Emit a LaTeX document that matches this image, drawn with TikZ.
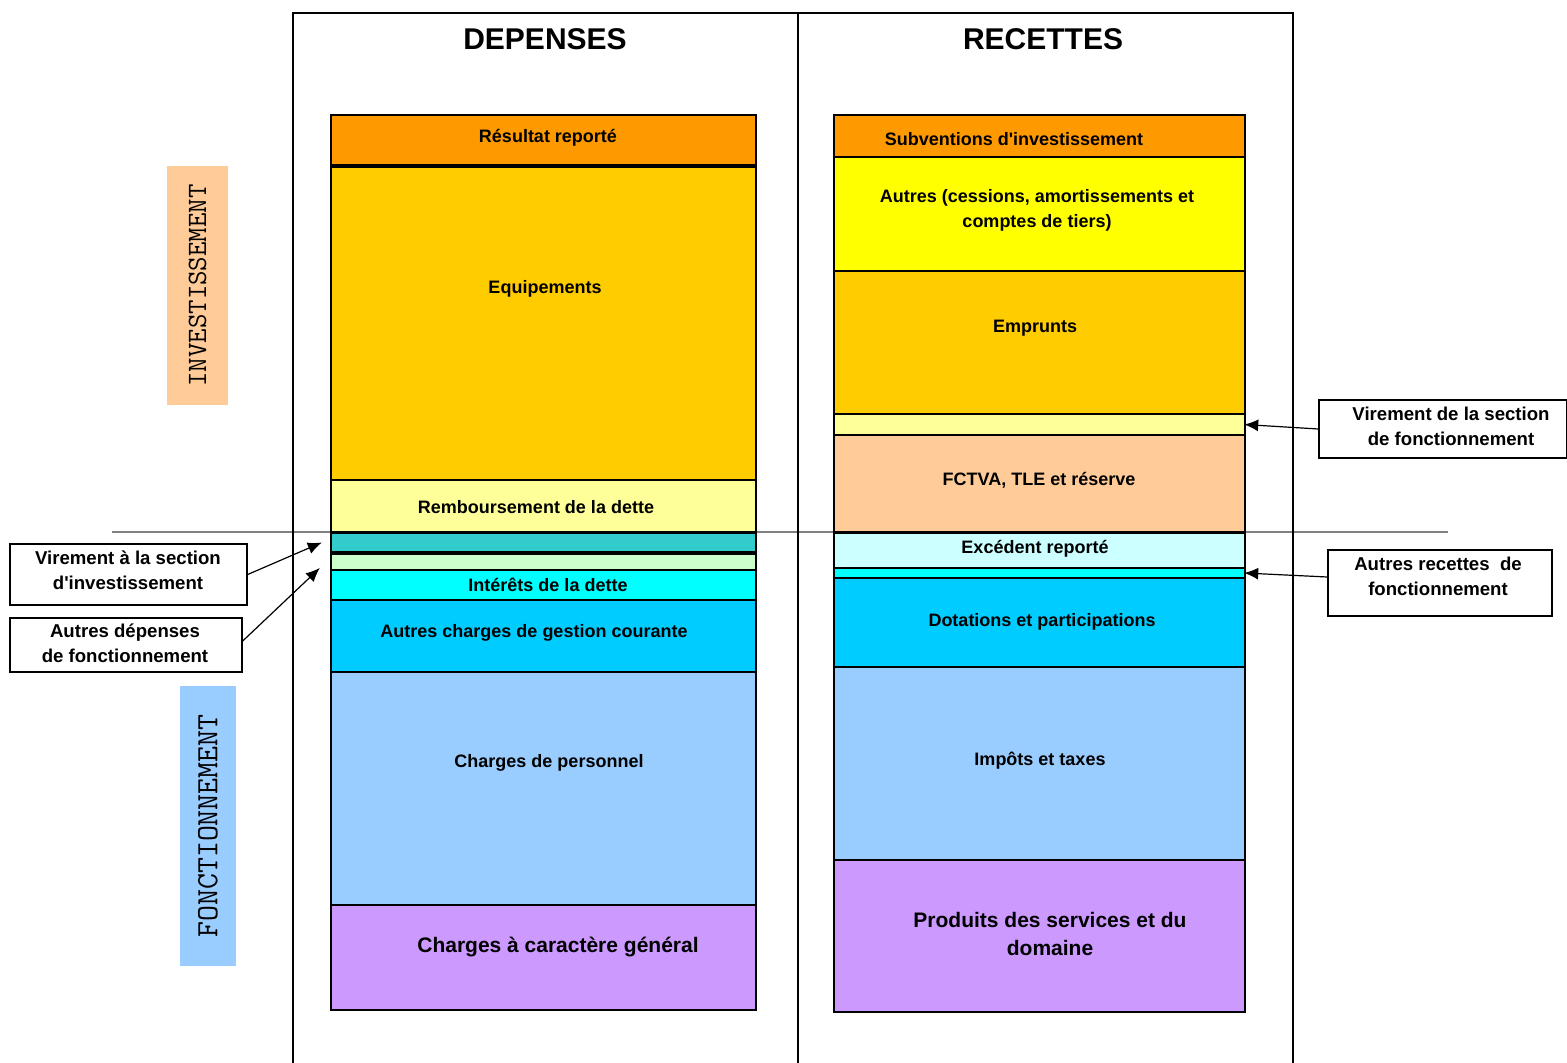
\documentclass[tikz,border=0pt]{standalone}
\usepackage{fontspec}
\setmainfont{Liberation Sans}
\usetikzlibrary{arrows.meta,fit}

\definecolor{orangeA}{HTML}{FF9900}
\definecolor{goldA}{HTML}{FFCC00}
\definecolor{paleYellow}{HTML}{FFFF99}
\definecolor{brightYellow}{HTML}{FFFF00}
\definecolor{tealA}{HTML}{33CCCC}
\definecolor{mintA}{HTML}{CCFFCC}
\definecolor{cyanA}{HTML}{00FFFF}
\definecolor{skyA}{HTML}{00CCFF}
\definecolor{lightBlue}{HTML}{99CCFF}
\definecolor{lilacA}{HTML}{CC99FF}
\definecolor{peachA}{HTML}{FFCC99}
\definecolor{paleCyan}{HTML}{CCFFFF}

\begin{document}
\begin{tikzpicture}[
        x=0.5pt, y=-0.5pt,
        band/.style={rectangle, draw=black, line width=1.2pt, inner sep=0pt},
        btext/.style={align=center, inner sep=1pt, font=\fontsize{9}{12.5}\selectfont\bfseries},
        bigtext/.style={btext, font=\fontsize{10.5}{14}\selectfont\bfseries},
        title/.style={font=\fontsize{15}{18}\selectfont\bfseries},
        note/.style={rectangle, draw=black, line width=0.7pt, inner sep=0pt},
        notetext/.style={btext, font=\fontsize{9.3}{12.5}\selectfont\bfseries},
        side/.style={rectangle, draw=none, inner sep=0pt},
        sidetext/.style={rotate=90, inner sep=0pt, font=\ttfamily\fontsize{14}{16}\selectfont},
        arrow/.style={-{Latex[length=7pt,width=6pt]}, line width=0.6pt}
    ]
        \useasboundingbox (0,0) rectangle (1567,1063);

        \draw[gray, line width=0.7pt] (112,532) -- (1448,532);
        \draw[line width=0.6pt] (293,1063) |- (1293,13) -- (1293,1063);
        \draw[line width=0.6pt] (798,13) -- (798,1063);

        \node[title] (depenses) at (545,39) {DEPENSES};
        \node[title] (recettes) at (1043,39) {RECETTES};

        \node[side, fill=peachA, fit={(167,166) (228,405)}] (invest) {};
        \node[sidetext] (investtext) at (invest.center) {INVESTISSEMENT};
        \node[side, fill=lightBlue, fit={(180,686) (236,966)}] (fonct) {};
        \node[sidetext, font=\ttfamily\fontsize{15.5}{17}\selectfont] (fonctext) at (fonct.center) {FONCTIONNEMENT};

        \node[band, fill=orangeA, fit={(331,115) (756,165)}] (resultat) {};
        \node[band, fill=goldA, fit={(331,167) (756,480)}] (equip) {};
        \node[band, fill=paleYellow, fit={(331,480) (756,532)}] (rembt) {};
        \node[band, fill=tealA, fit={(331,533) (756,552)}] (virinvband) {};
        \node[band, fill=mintA, fit={(331,554) (756,570)}] (autdepband) {};
        \node[band, fill=cyanA, fit={(331,570) (756,600)}] (interets) {};
        \node[band, fill=skyA, fit={(331,600) (756,672)}] (gestion) {};
        \node[band, fill=lightBlue, fit={(331,672) (756,905)}] (personnel) {};
        \node[band, fill=lilacA, fit={(331,905) (756,1010)}] (general) {};

        \node[btext] (resultattext) at (548,138) {R\'esultat report\'e};
        \node[btext] (equiptext) at (545,289) {Equipements};
        \node[btext] (rembttext) at (536,507) {Remboursement de la dette};
        \node[btext] (interetstext) at (548,585) {Int\'er\^ets de la dette};
        \node[btext] (gestiontext) at (534,633) {Autres charges de gestion courante};
        \node[btext] (personneltext) at (549,763) {Charges de personnel};
        \node[bigtext] (generaltext) at (558,947) {Charges \`a caract\`ere g\'en\'eral};

        \node[band, fill=orangeA, fit={(834,115) (1245,157)}] (subv) {};
        \node[band, fill=brightYellow, fit={(834,157) (1245,271)}] (cessions) {};
        \node[band, fill=goldA, fit={(834,271) (1245,414)}] (emprunts) {};
        \node[band, fill=paleYellow, fit={(834,414) (1245,435)}] (virfonband) {};
        \node[band, fill=peachA, fit={(834,435) (1245,532)}] (fctva) {};
        \node[band, fill=paleCyan, fit={(834,533) (1245,568)}] (excedent) {};
        \node[band, fill=cyanA, fit={(834,568) (1245,578)}] (autrecband) {};
        \node[band, fill=skyA, fit={(834,578) (1245,667)}] (dotations) {};
        \node[band, fill=lightBlue, fit={(834,667) (1245,860)}] (impots) {};
        \node[band, fill=lilacA, fit={(834,860) (1245,1012)}] (produits) {};

        \node[btext] (subvtext) at (1014,139) {Subventions d\textquotesingle investissement};
        \node[btext] (cessionstext) at (1037,210) {Autres (cessions, amortissements et\\comptes de tiers)};
        \node[btext] (empruntstext) at (1035,328) {Emprunts};
        \node[btext] (fctvatext) at (1039,480) {FCTVA, TLE et r\'eserve};
        \node[btext] (excedenttext) at (1035,549) {Exc\'edent report\'e};
        \node[btext] (dotationstext) at (1042,622) {Dotations et participations};
        \node[btext] (impotstext) at (1040,761) {Imp\^ots et taxes};
        \node[bigtext] (produitstext) at (1050,934) {Produits des services et du\\domaine};

        \node[note, fit={(10,544) (247,605)}] (virinv) {};
        \node[note, fit={(10,618) (242,672)}] (autdep) {};
        \node[note, fit={(1319,400) (1567,458)}] (virfon) {};
        \node[note, fit={(1328,550) (1552,616)}] (autrec) {};

        \node[notetext] (virinvtext) at (128,570) {Virement \`a la section\\d\textquotesingle investissement};
        \node[notetext] (autdeptext) at (125,643) {Autres d\'epenses\\de fonctionnement};
        \node[notetext] (virfontext) at (1451,426) {Virement de la section\\de fonctionnement};
        \node[notetext] (autrectext) at (1438,576) {Autres recettes\ \ de\\fonctionnement};

        \draw[arrow] (virinv.east) -- ([xshift=-4pt]virinvband.west);
        \draw[arrow] ([yshift=2pt]autdep.east) -- ([xshift=-5pt,yshift=-3pt]autdepband.west);
        \draw[arrow] (virfon.west) -- ([xshift=-1pt]virfonband.east);
        \draw[arrow] ([yshift=3pt]autrec.west) -- ([xshift=-1pt]autrecband.east);
    \end{tikzpicture}
\end{document}
